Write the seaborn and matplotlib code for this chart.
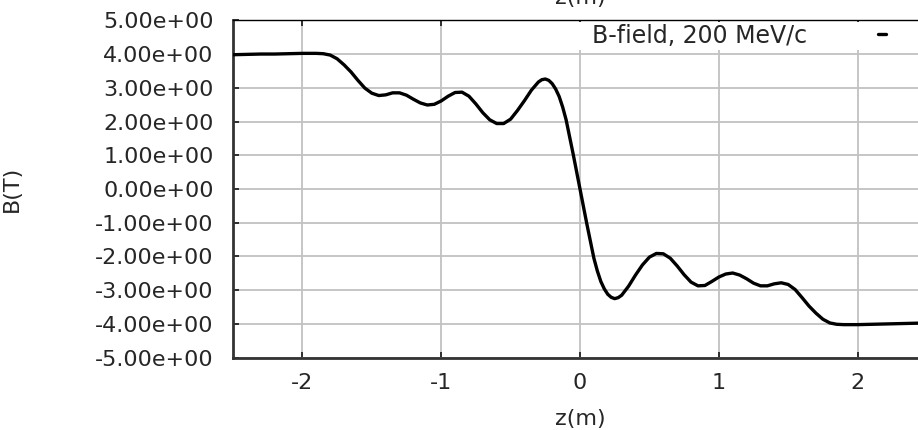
import matplotlib
matplotlib.use("Agg")
import matplotlib.pyplot as plt
from matplotlib.patches import Rectangle
from matplotlib.ticker import FuncFormatter, MultipleLocator
import seaborn as sns
import pandas as pd

# ---- data ----
z_m = [-2.50, -2.40, -2.30, -2.20, -2.10, -2.00, -1.95, -1.90, -1.85, -1.80,
       -1.75, -1.70, -1.65, -1.60, -1.55, -1.50, -1.45, -1.40, -1.35, -1.30,
       -1.25, -1.20, -1.15, -1.10, -1.05, -1.00, -0.95, -0.90, -0.85, -0.80,
       -0.75, -0.70, -0.65, -0.60, -0.55, -0.50, -0.45, -0.40, -0.35, -0.30,
       -0.275, -0.25, -0.225, -0.20, -0.175, -0.15, -0.125, -0.10, -0.05, 0.00,
       0.05, 0.10, 0.125, 0.15, 0.175, 0.20, 0.225, 0.25, 0.275, 0.30,
       0.35, 0.40, 0.45, 0.50,
       0.55, 0.60, 0.65, 0.70, 0.75, 0.80, 0.85, 0.90, 0.95, 1.00,
       1.05, 1.10, 1.15, 1.20, 1.25, 1.30, 1.35, 1.40, 1.45, 1.50,
       1.55, 1.60, 1.65, 1.70, 1.75, 1.80, 1.85, 1.90, 1.95, 2.00,
       2.10, 2.20, 2.30, 2.40, 2.50]
b_field = [3.98, 3.99, 4.00, 4.00, 4.01, 4.02, 4.02, 4.02, 4.01, 3.97,
           3.86, 3.68, 3.47, 3.22, 2.99, 2.84, 2.77, 2.79, 2.85, 2.85,
           2.78, 2.66, 2.55, 2.49, 2.51, 2.61, 2.75, 2.86, 2.87, 2.75,
           2.52, 2.26, 2.05, 1.94, 1.94, 2.07, 2.33, 2.62, 2.93, 3.17,
           3.24, 3.26, 3.22, 3.12, 2.96, 2.74, 2.43, 2.05, 1.05, 0.00,
           -1.05, -2.05, -2.43, -2.74, -2.96, -3.12, -3.21, -3.25, -3.22, -3.15,
           -2.88, -2.55, -2.25, -2.02,
           -1.91, -1.92, -2.05, -2.28, -2.54, -2.76, -2.87, -2.86, -2.74, -2.61,
           -2.52, -2.49, -2.55, -2.66, -2.79, -2.87, -2.87, -2.81, -2.78, -2.83,
           -2.98, -3.22, -3.47, -3.68, -3.86, -3.97, -4.01, -4.02, -4.02, -4.02,
           -4.01, -4.00, -3.99, -3.98, -3.97]
series_label = "B-field, 200 MeV/c"
x_label = "z(m)"
y_label = "B(T)"
title = "z(m)"

df = pd.DataFrame({"z": z_m, "B": b_field})

sns.set_style("ticks")
plt.rcParams["font.family"] = ["DejaVu Sans"]
plt.rcParams["axes.unicode_minus"] = False

fig = plt.figure(figsize=(9.18, 4.30), dpi=100)
W, H = 918, 430
ax_l, ax_r, ax_t, ax_b = 233, 927, 20.3, 357.7
ax = fig.add_axes([ax_l / W, 1 - ax_b / H, (ax_r - ax_l) / W, (ax_b - ax_t) / H])

sns.lineplot(data=df, x="z", y="B", ax=ax, color="black", linewidth=2.4,
             label=series_label, zorder=3, sort=False)
for ln in ax.lines:
    ln.set_solid_joinstyle("round")
    ln.set_solid_capstyle("round")

ax.set_xlim(-2.5, 2.5)
ax.set_ylim(-5, 5)
ax.xaxis.set_major_locator(MultipleLocator(1))
ax.yaxis.set_major_locator(MultipleLocator(1))
ax.xaxis.set_major_formatter(FuncFormatter(lambda v, p: f"{v:g}"))
ax.yaxis.set_major_formatter(FuncFormatter(lambda v, p: f"{v:.2e}"))

ax.grid(True, color="#c2c2c2", linewidth=1.3, zorder=0)
ax.set_axisbelow(True)

ax.tick_params(axis="both", direction="in", length=4, width=1.3,
               color="#222222", labelsize=16, top=True, right=True)
ax.tick_params(axis="x", pad=11)
ax.tick_params(axis="y", pad=14)

for side in ["left", "bottom"]:
    ax.spines[side].set_linewidth(2.0)
    ax.spines[side].set_color("#333333")
ax.spines["top"].set_linewidth(1.0)
ax.spines["top"].set_color("black")

ax.set_xlabel(x_label, fontsize=16)
ax.set_ylabel(y_label, fontsize=16)
ax.xaxis.set_label_coords(0.5, (ax_b - 409) / (ax_b - ax_t))
ax.yaxis.set_label_coords((22 - ax_l) / (ax_r - ax_l), 0.5)
ax.set_title(title, fontsize=16, pad=12)

# white legend background box
ax.add_patch(Rectangle(((575 - ax_l) / (ax_r - ax_l), (ax_b - 50) / (ax_b - ax_t)),
                       0.6, (50 - 22) / (ax_b - ax_t), transform=ax.transAxes,
                       facecolor="white", edgecolor="none", zorder=1, clip_on=False))

leg = ax.legend(loc="center left",
                bbox_to_anchor=((592 - ax_l) / (ax_r - ax_l), (ax_b - 35.5) / (ax_b - ax_t)),
                frameon=False, fontsize=17, markerfirst=False, borderpad=0,
                borderaxespad=0, handlelength=0.34, handletextpad=3.0)

fig.savefig("out.png", dpi=100)
